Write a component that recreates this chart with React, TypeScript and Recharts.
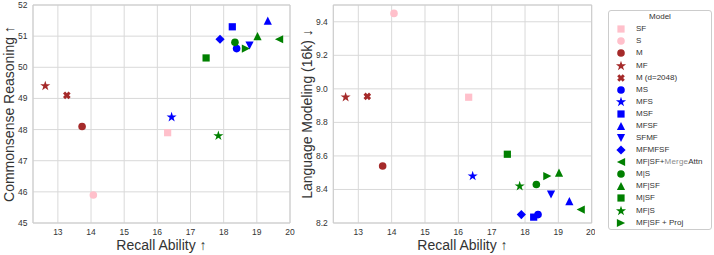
import React from "react"
import { ScatterChart, Scatter, XAxis, YAxis, CartesianGrid, ReferenceLine } from "recharts"

const FONT = "'Liberation Sans', Arial, sans-serif"
const TEXT = "#333333"
const GRID = "#d9d9d9"
const SPINE = "#cccccc"

const models = [
  "SF", "S", "M", "MF", "M (d=2048)", "MS", "MFS", "MSF", "MFSF", "SFMF", "MFMFSF",
  "MF|SF+MergeAttn", "M|S", "MF|SF", "M|SF", "MF|S", "MF|SF + Proj",
]
const colors = [
  "#ffc0cb", "#ffc0cb", "#a52a2a", "#a52a2a", "#a52a2a", "#0000ff", "#0000ff", "#0000ff", "#0000ff",
  "#0000ff", "#0000ff", "#008000", "#008000", "#008000", "#008000", "#008000", "#008000",
]
const markers = [
  "square", "circle", "circle", "star", "x", "circle", "star", "square", "triUp", "triDown", "diamond",
  "triLeft", "circle", "triUp", "square", "star", "triRight",
]
const recall = [16.31, 14.07, 13.73, 12.62, 13.27, 18.39, 16.43, 18.26, 19.33, 18.78, 17.89, 19.67, 18.34, 19.02, 17.47, 17.84, 18.67]
const commonsense = [47.9, 45.9, 48.1, 49.4, 49.1, 50.6, 48.4, 51.3, 51.5, 50.7, 50.9, 50.9, 50.8, 51.0, 50.3, 47.8, 50.6]
const langModeling = [8.95, 9.45, 8.54, 8.95, 8.955, 8.25, 8.48, 8.235, 8.33, 8.37, 8.25, 8.28, 8.43, 8.5, 8.61, 8.42, 8.48]

const xTicks = [13, 14, 15, 16, 17, 18, 19, 20]
const csTicks = [45, 46, 47, 48, 49, 50, 51, 52]
const lmTicks = [8.2, 8.4, 8.6, 8.8, 9.0, 9.2, 9.4]

const pts = (arr: number[][]) => arr.map((p) => p.join(",")).join(" ")

function Marker({ cx, cy, kind, color }: { cx: number; cy: number; kind: string; color: string }) {
  const s = 4.1
  switch (kind) {
    case "square":
      return <rect x={cx - 3.6} y={cy - 3.6} width={7.2} height={7.2} fill={color} />
    case "circle":
      return <circle cx={cx} cy={cy} r={3.8} fill={color} />
    case "star": {
      const R = 5.3
      const r = R * 0.382
      const p: number[][] = []
      for (let i = 0; i < 10; i++) {
        const a = -Math.PI / 2 + (i * Math.PI) / 5
        const rad = i % 2 === 0 ? R : r
        p.push([cx + rad * Math.cos(a), cy + rad * Math.sin(a)])
      }
      return <polygon points={pts(p)} fill={color} />
    }
    case "x": {
      const a = 3.9
      const w = 1.5
      const base = [[w, a], [w, w], [a, w], [a, -w], [w, -w], [w, -a], [-w, -a], [-w, -w], [-a, -w], [-a, w], [-w, w], [-w, a]]
      const c = Math.SQRT1_2
      const p = base.map(([x, y]) => [cx + (x - y) * c, cy + (x + y) * c])
      return <polygon points={pts(p)} fill={color} />
    }
    case "triUp":
      return <polygon points={pts([[cx, cy - s], [cx - s, cy + s], [cx + s, cy + s]])} fill={color} />
    case "triDown":
      return <polygon points={pts([[cx, cy + s], [cx - s, cy - s], [cx + s, cy - s]])} fill={color} />
    case "triLeft":
      return <polygon points={pts([[cx - s, cy], [cx + s, cy - s], [cx + s, cy + s]])} fill={color} />
    case "triRight":
      return <polygon points={pts([[cx + s, cy], [cx - s, cy - s], [cx - s, cy + s]])} fill={color} />
    case "diamond": {
      const d = 4.6
      return <polygon points={pts([[cx, cy - d], [cx + d, cy], [cx, cy + d], [cx - d, cy]])} fill={color} />
    }
  }
  return null
}

const tickStyle = { fontSize: 8.5, fill: TEXT, fontFamily: FONT }
const titleStyle = { fontSize: 14, fill: TEXT, fontFamily: FONT, textAnchor: "middle" as const }

function Panel({
  values, yTicks, yDomain, yLabel, yWidth, labelOffset, width, right, top, fmt,
}: {
  values: number[]; yTicks: number[]; yDomain: [number, number]; yLabel: string; yWidth: number
  labelOffset: number; width: number; right: number; top: number; fmt?: (v: number) => string
}) {
  return (
    <ScatterChart width={width} height={255} margin={{ top: 5, right, bottom: 0, left: 0 }}>
      <CartesianGrid stroke={GRID} strokeWidth={1} />
      <XAxis
        type="number"
        dataKey="x"
        domain={[12.25, 20]}
        ticks={xTicks}
        allowDataOverflow
        height={32}
        tickLine={false}
        tickSize={4}
        tickMargin={2}
        axisLine={{ stroke: SPINE }}
        tick={tickStyle}
        label={{ value: "Recall Ability  ↑", position: "insideBottom", offset: 5, style: titleStyle }}
      />
      <YAxis
        type="number"
        dataKey="y"
        domain={yDomain}
        ticks={yTicks}
        allowDataOverflow
        width={yWidth}
        tickLine={false}
        tickSize={3}
        tickMargin={2.5}
        axisLine={{ stroke: SPINE }}
        tick={tickStyle}
        tickFormatter={fmt}
        label={{ value: yLabel, angle: -90, position: "insideLeft", offset: labelOffset, style: titleStyle }}
      />
      <ReferenceLine y={top} stroke={SPINE} strokeWidth={1} />
      <ReferenceLine x={20} stroke={SPINE} strokeWidth={1} />
      {models.map((m, i) => (
        <Scatter
          key={m}
          name={m}
          data={[{ x: recall[i], y: values[i] }]}
          isAnimationActive={false}
          shape={(p: any) => <Marker cx={p.cx} cy={p.cy} kind={markers[i]} color={colors[i]} />}
        />
      ))}
    </ScatterChart>
  )
}

function LegendLabel({ text }: { text: string }) {
  if (text.includes("Merge")) {
    const [a, b] = text.split("Merge")
    return (
      <span>
        {a}
        <span style={{ color: "#8a8a8a", letterSpacing: 0.2 }}>Merge</span>
        {b}
      </span>
    )
  }
  return <span>{text}</span>
}

function ModelLegend() {
  return (
    <div
      style={{
        position: "absolute", left: 608, top: 10, width: 102, height: 218,
        border: `1px solid ${SPINE}`, borderRadius: 3, background: "#fff",
        fontFamily: FONT, fontSize: 8, color: TEXT,
      }}
    >
      <div style={{ position: "absolute", left: 0, right: 0, top: 0, height: 12, lineHeight: "12px", textAlign: "center" }}>
        Model
      </div>
      {models.map((m, i) => (
        <div
          key={m}
          style={{ position: "absolute", left: 3.7, top: 12.3 + i * 12.08, height: 12, display: "flex", alignItems: "center", whiteSpace: "nowrap" }}
        >
          <svg width={16} height={12} style={{ display: "block" }}>
            <Marker cx={8} cy={6} kind={markers[i]} color={colors[i]} />
          </svg>
          <span style={{ marginLeft: 7.3, lineHeight: "12px" }}>
            <LegendLabel text={m} />
          </span>
        </div>
      ))}
    </div>
  )
}

export default function App() {
  return (
    <div style={{ position: "relative", width: 714, height: 255, background: "#fff", overflow: "hidden" }}>
      <style>{"body{margin:0}"}</style>
      <div style={{ position: "absolute", left: 0, top: 0 }}>
        <Panel
          values={commonsense}
          yTicks={csTicks}
          yDomain={[45, 52]}
          yLabel="Commonsense Reasoning  ↑"
          yWidth={33}
          labelOffset={9}
          width={295}
          right={5}
          top={52}
        />
      </div>
      <div style={{ position: "absolute", left: 295, top: 0 }}>
        <Panel
          values={langModeling}
          yTicks={lmTicks}
          yDomain={[8.2, 9.5]}
          yLabel="Language Modeling (16k)  ↓"
          yWidth={38.3}
          labelOffset={12}
          width={300}
          right={3.3}
          top={9.5}
          fmt={(v) => v.toFixed(1)}
        />
      </div>
      <ModelLegend />
    </div>
  )
}
